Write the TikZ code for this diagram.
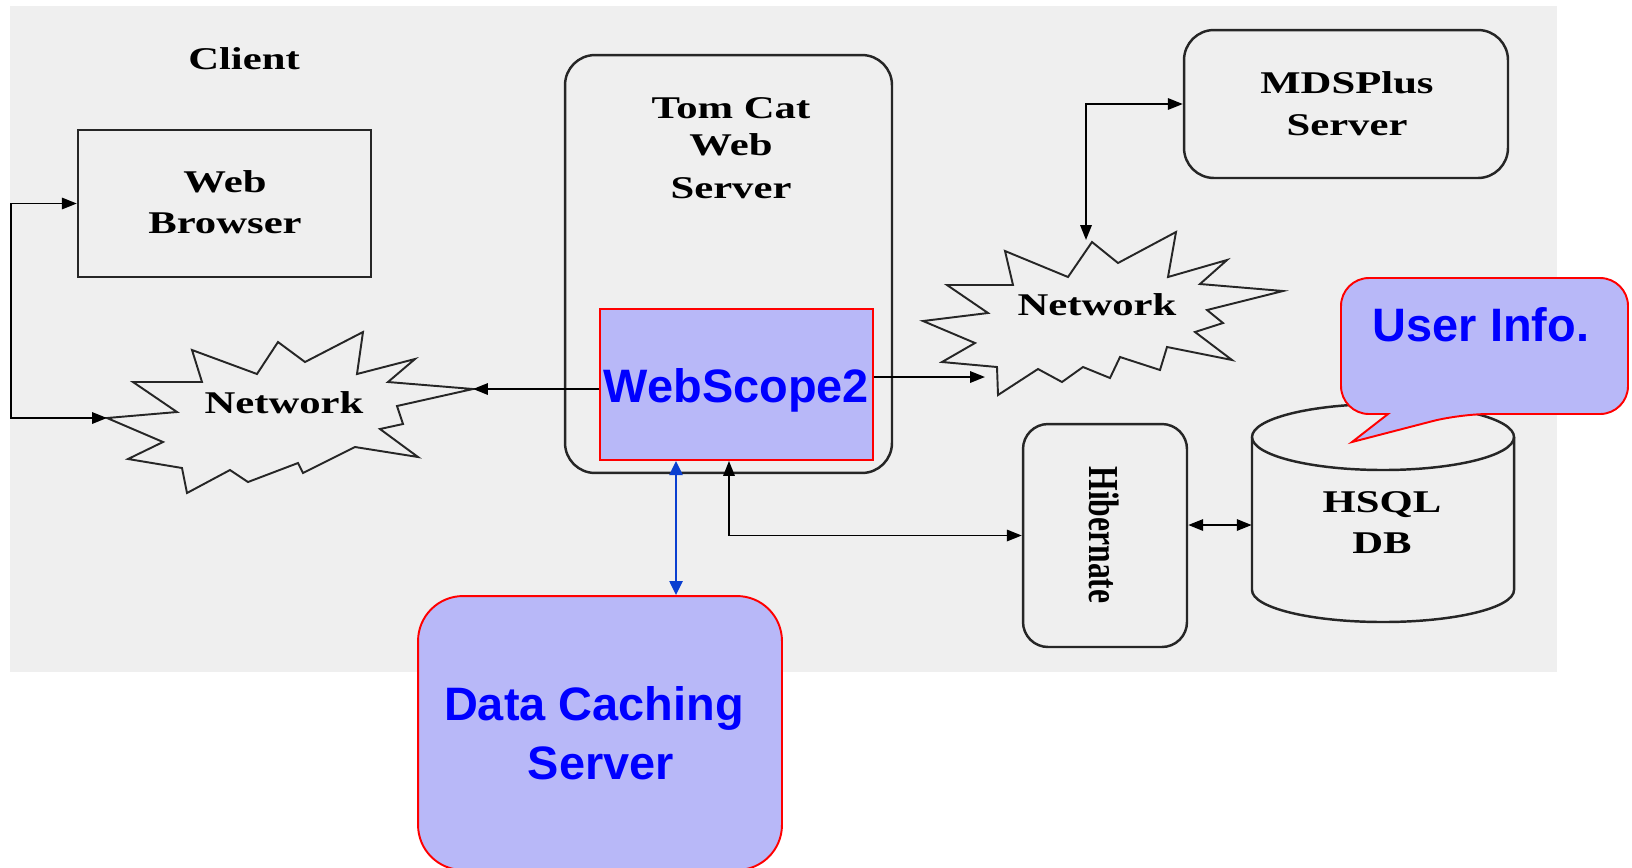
\documentclass[tikz,border=0pt]{standalone}
\usepackage{fontspec}
\setmainfont{Liberation Serif}
\newfontfamily\arialf{Liberation Sans}
\usepackage{graphicx}
\usetikzlibrary{arrows.meta}
\definecolor{bggray}{HTML}{EFEFEF}
\definecolor{lav}{HTML}{B8B8F8}
\definecolor{wsblue}{HTML}{0000FF}
\definecolor{arrblue}{HTML}{0A3FD0}
\definecolor{boxline}{HTML}{262626}
\newcommand\bt[1]{\scalebox{1.35}[1]{#1}}
\begin{document}
\begin{tikzpicture}[x=0.02cm,y=-0.02cm,
  blackbox/.style={draw=boxline,line width=1.4pt,inner sep=0pt},
  btxt/.style={font=\bfseries\fontsize{18}{22}\selectfont,inner sep=0pt,anchor=base,text=black},
  bluetxt/.style={font=\arialf\bfseries\fontsize{26.7}{33}\selectfont,inner sep=0pt,anchor=base,text=wsblue},
  lavbox/.style={draw=red,fill=lav,line width=1.1pt,inner sep=0pt},
  burst/.style={draw=boxline,line width=1.1pt,line join=miter},
  arr/.style={line width=1.1pt,draw=black,-{Triangle[length=8.5pt,width=6.5pt]}},
  darr/.style={line width=1.1pt,draw=black,{Triangle[length=8.5pt,width=6.5pt]}-{Triangle[length=8.5pt,width=6.5pt]}},
  bdarr/.style={line width=1.1pt,draw=arrblue,{Triangle[length=8pt,width=7.5pt]}-{Triangle[length=8pt,width=7.5pt]}}]
\useasboundingbox (0,0) rectangle (1632,867);
\fill[bggray] (10,6) rectangle (1557,672);

% Client
\node[btxt] (client) at (244,69) {\bt{Client}};

% Web Browser
\node[blackbox,minimum width=5.86cm,minimum height=2.94cm] (web) at (224.5,203.5) {};
\node[btxt] (web1) at (225,192) {\bt{Web}};
\node[btxt] (web2) at (225,233) {\bt{Browser}};

% Tom Cat
\node[blackbox,rounded corners=0.6cm,minimum width=6.54cm,minimum height=8.36cm] (tomcat) at (728.5,264) {};
\node[btxt] (tc1) at (731,118) {\bt{Tom Cat}};
\node[btxt] (tc2) at (731,155) {\bt{Web}};
\node[btxt] (tc3) at (731,198) {\bt{Server}};

% WebScope2
\node[lavbox,minimum width=5.46cm,minimum height=3.02cm] (ws) at (736.5,384.5) {};
\node[bluetxt] (wst) at (736.5,402) {WebScope2};

% MDSPlus
\node[blackbox,rounded corners=0.6cm,minimum width=6.48cm,minimum height=2.96cm] (mds) at (1346,104) {};
\node[btxt] (mds1) at (1347,93) {\bt{MDSPlus}};
\node[btxt] (mds2) at (1347,135) {\bt{Server}};

% Hibernate
\node[blackbox,rounded corners=0.5cm,minimum width=3.28cm,minimum height=4.46cm] (hib) at (1105,535.5) {};
\node[font=\bfseries\fontsize{18}{22}\selectfont,inner sep=0pt,rotate=-90] (hibt) at (1104,535) {\scalebox{1}[1.35]{Hibernate}};

% HSQL DB cylinder
\node[minimum width=5.24cm,minimum height=3.0cm,inner sep=0pt] (hsql) at (1383,525) {};
\draw[boxline,line width=1.4pt] (1252,437) -- (1252,590) arc[start angle=180,end angle=0,x radius=131,y radius=32] -- (1514,437);
\draw[boxline,line width=1.4pt] (1383,437) ellipse [x radius=131,y radius=33];
\node[btxt] (hs1) at (1382,512) {\bt{HSQL}};
\node[btxt] (hs2) at (1382,553) {\bt{DB}};

% Left network burst
\coordinate (lnL) at (107,418);
\coordinate (lnR) at (473,389);
\draw[burst] (lnL) -- (177,412) -- (133,382) -- (202,382) -- (192,350) -- (257,374) -- (278,342) -- (305,362) -- (363,332) -- (357,374) -- (415,359) -- (388,382) -- (lnR) -- (397,406) -- (403,424) -- (380,429) -- (418,457) -- (355,447) -- (303,473) -- (298,463) -- (248,482) -- (230,470) -- (187,493) -- (182,468) -- (128,459) -- (163,442) -- cycle;
\node[btxt] (lnet) at (284,413) {\bt{Network}};

% Right network burst
\coordinate (rnT) at (1086,240);
\coordinate (rnL) at (985,377);
\draw[burst] (1092,242) -- (1118,263) -- (1176,232) -- (1168,277) -- (1227,260) -- (1200,284) -- (1283,291) -- (1207,310) -- (1223,323) -- (1195,332) -- (1232,360) -- (1167,347) -- (1160,370) -- (1120,357) -- (1110,378) -- (1083,367) -- (1062,382) -- (1038,369) -- (998,395) -- (997,367) -- (942,362) -- (975,343) -- (923,321) -- (988,313) -- (947,285) -- (1013,285) -- (1005,251) -- (1068,277) -- cycle;
\node[btxt] (rnet) at (1097,315) {\bt{Network}};

% Data Caching Server
\node[lavbox,rounded corners=0.9cm,minimum width=7.28cm,minimum height=5.48cm] (dc) at (600,733) {};
\node[bluetxt] (dc1) at (594,720) {Data Caching};
\node[bluetxt] (dc2) at (601,779) {Server};

% User Info callout
\draw[lavbox] (1480,278) [rounded corners=0.56cm] -- (1628,278) -- (1628,414) -- (1460,414) [sharp corners] -- (1352,442) -- (1388,414) [rounded corners=0.56cm] -- (1341,414) -- (1341,278) -- cycle;
\node[bluetxt] (ui) at (1481,341) {User Info.};

% Connectors
\draw[darr] (web.west) -- ++(-66,0) |- (lnL);
\draw[arr] (ws.west |- lnR) -- (lnR);
\draw[arr] (ws.east |- rnL) -- (rnL);
\draw[darr] (mds.west) -| (rnT);
\coordinate (tcb) at (729,535.5);
\draw[darr] (tcb |- ws.south) |- (hib.west);
\draw[darr] (hib.east |- hsql.west) -- (hsql.west);
\coordinate (bx) at (676,0);
\draw[bdarr] (bx |- ws.south) -- (bx |- dc.north);
\end{tikzpicture}
\end{document}
